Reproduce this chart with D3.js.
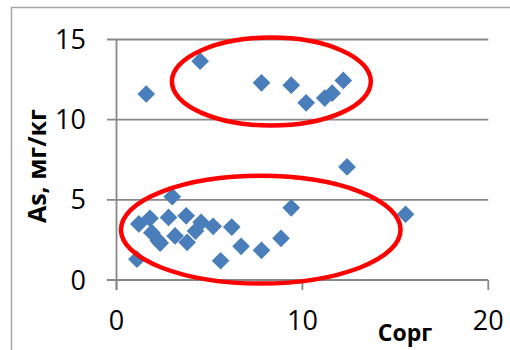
<!DOCTYPE html>
<html>
<head>
<meta charset="utf-8">
<script src="https://cdn.jsdelivr.net/npm/d3@7"></script>
<style>
  html, body { margin: 0; padding: 0; background: #fff; }
  svg { display: block; }
  text { font-family: "Open Sans", "Liberation Sans", Arial, sans-serif; fill: #000; }
</style>
</head>
<body>
<svg id="chart" width="510" height="350"></svg>
<script>
// Organic carbon (Сорг) vs arsenic content (As, мг/кг)
const corg = [1.6, 4.5, 7.8, 9.4, 10.2, 11.2, 11.6, 12.2, 12.4, 15.55, 9.4, 3.0,
              1.2, 1.8, 1.9, 2.25, 2.35, 2.8, 3.15, 3.8, 3.75, 4.25, 4.55, 5.2,
              6.2, 6.7, 7.8, 8.85, 5.6, 1.1];
const arsenic = [11.6, 13.65, 12.3, 12.15, 11.05, 11.35, 11.65, 12.45, 7.05, 4.1, 4.5, 5.2,
                 3.5, 3.85, 2.95, 2.45, 2.3, 3.9, 2.75, 2.35, 4.0, 3.05, 3.6, 3.35,
                 3.3, 2.1, 1.85, 2.6, 1.2, 1.3];
const xTicks = [0, 10, 20];
const yTicks = [0, 5, 10, 15];
// Highlighted groups: centre and radii in data units
const groupCx = [8.33, 7.76];
const groupCy = [12.38, 3.14];
const groupRx = [5.35, 7.52];
const groupRy = [2.74, 3.36];

const svg = d3.select("#chart");
const x = d3.scaleLinear().domain([0, 20]).range([116.5, 488.3]);
const y = d3.scaleLinear().domain([0, 15]).range([280, 39.5]);
const gridColor = "#888888";

// outer chart frame
svg.append("rect")
  .attr("x", 11.5).attr("y", 7.5).attr("width", 520).attr("height", 360)
  .attr("fill", "none").attr("stroke", "#a6a6a6").attr("stroke-width", 1.5);

// horizontal gridlines (also serve as left tick marks)
svg.append("g").selectAll("line").data(yTicks).join("line")
  .attr("x1", x(0) - 9.5).attr("x2", x(20))
  .attr("y1", d => y(d)).attr("y2", d => y(d))
  .attr("stroke", gridColor).attr("stroke-width", 1.8);

// y axis line
svg.append("line")
  .attr("x1", x(0)).attr("x2", x(0)).attr("y1", y(15)).attr("y2", y(0) + 10)
  .attr("stroke", gridColor).attr("stroke-width", 1.8);

// x tick marks
svg.append("g").selectAll("line").data(xTicks).join("line")
  .attr("x1", d => x(d)).attr("x2", d => x(d))
  .attr("y1", y(0)).attr("y2", y(0) + 10)
  .attr("stroke", gridColor).attr("stroke-width", 1.8);

// tick labels
svg.append("g").selectAll("text").data(yTicks).join("text")
  .attr("x", 86).attr("y", d => y(d) + 9.5)
  .attr("text-anchor", "end")
  .style("font-size", "27px")
  .text(d => d);

svg.append("g").selectAll("text").data(xTicks).join("text")
  .attr("x", d => x(d)).attr("y", 330)
  .attr("text-anchor", "middle")
  .style("font-size", "27px")
  .text(d => d);

// axis titles
svg.append("text")
  .attr("transform", "translate(46,166) rotate(-90)")
  .attr("text-anchor", "middle")
  .style("font-size", "25px").style("font-weight", "bold")
  .text("As, мг/кг");

svg.append("text")
  .attr("x", 405).attr("y", 341)
  .attr("text-anchor", "middle")
  .style("font-size", "23px").style("font-weight", "bold")
  .text("Сорг");

// diamond markers
const diamond = d3.symbol().type(d3.symbolDiamond2).size(200);
svg.append("g").selectAll("path").data(corg).join("path")
  .attr("transform", (d, i) => `translate(${x(d)},${y(arsenic[i])})`)
  .attr("d", diamond)
  .attr("fill", "#4a7ebb");

// group ellipses
svg.append("g").selectAll("ellipse").data(groupCx).join("ellipse")
  .attr("cx", d => x(d))
  .attr("cy", (d, i) => y(groupCy[i]))
  .attr("rx", (d, i) => x(groupRx[i]) - x(0))
  .attr("ry", (d, i) => y(0) - y(groupRy[i]))
  .attr("fill", "none").attr("stroke", "#ff0000").attr("stroke-width", 4.5);
</script>
</body>
</html>
